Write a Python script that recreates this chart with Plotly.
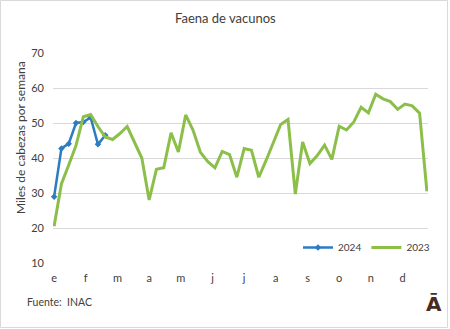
import plotly.graph_objects as go

# Weekly cattle slaughter (thousand head per week)
weeks = list(range(1, 53))
faena_2023 = [20.5, 32.6, 38.0, 43.6, 51.8, 52.4, 49.0, 46.0, 45.3, 47.0,
              49.0, 44.6, 40.0, 28.0, 36.8, 37.2, 47.2, 41.7, 52.3, 48.0,
              41.7, 39.0, 37.2, 41.9, 41.0, 34.5, 42.7, 42.2, 34.5, 39.3,
              44.6, 49.6, 51.0, 29.7, 44.6, 38.4, 40.7, 43.7, 39.6, 49.1,
              48.0, 50.3, 54.5, 52.9, 58.2, 56.9, 56.1, 53.9, 55.4, 54.9,
              52.8, 30.5]
faena_2024 = [28.9, 42.7, 44.1, 50.0, 50.3, 51.6, 43.9, 46.5]
weeks_2024 = weeks[:len(faena_2024)]

month_labels = ["e", "f", "m", "a", "m", "j", "j", "a", "s", "o", "n", "d"]
month_ticks = [1 + i * 52 / 12 for i in range(12)]

W, H = 450, 329
L, R, T, B = 53, 22, 53, 66
PW, PH = W - L - R, H - T - B

def px_x(px):
    return (px - L) / PW

def px_y(py):
    return (H - B - py) / PH

FONT = "Lato"
TXT = "#404040"
GRID = "#D9D9D9"

fig = go.Figure()
fig.add_trace(go.Scatter(
    x=weeks_2024, y=faena_2024, name="2024", mode="lines+markers",
    line=dict(color="#2B7CC3", width=2.5),
    marker=dict(symbol="diamond", size=5, color="#2B7CC3"),
    cliponaxis=False,
))
fig.add_trace(go.Scatter(
    x=weeks, y=faena_2023, name="2023", mode="lines",
    line=dict(color="#8CBF4A", width=3),
    cliponaxis=False,
))

fig.update_layout(
    width=W, height=H,
    margin=dict(l=L, r=R, t=T, b=B),
    paper_bgcolor="white", plot_bgcolor="white",
    font=dict(family=FONT, size=11, color=TXT),
    showlegend=True,
    legend=dict(orientation="h", x=px_x(298), y=px_y(247.5),
                xanchor="left", yanchor="middle",
                bgcolor="rgba(0,0,0,0)", font=dict(size=10, color=TXT)),
    xaxis=dict(range=[0.85, 52.15], tickvals=month_ticks, ticktext=month_labels,
               showgrid=False, zeroline=False, showline=False, ticks="",
               ticklabelstandoff=7),
    yaxis=dict(range=[10, 70], dtick=10, showgrid=True, gridcolor=GRID,
               gridwidth=1, zeroline=False, showline=False, ticks="",
               ticklabelstandoff=8),
)

fig.add_annotation(text="Faena de vacunos", xref="paper", yref="paper",
                   x=px_x(225), y=px_y(18), xanchor="center", yanchor="middle",
                   showarrow=False, font=dict(size=13, color=TXT))
fig.add_annotation(text="Miles de cabezas por semana", xref="paper", yref="paper",
                   x=px_x(20), y=px_y(138), xanchor="center", yanchor="middle",
                   textangle=-90, showarrow=False,
                   font=dict(size=12, color=TXT))
fig.add_annotation(text="Fuente:  INAC", xref="paper", yref="paper",
                   x=px_x(25), y=px_y(302), xanchor="left", yanchor="middle",
                   showarrow=False, font=dict(size=10.5, color=TXT))
fig.add_annotation(text="<b>Ā</b>", xref="paper", yref="paper",
                   x=px_x(433.5), y=px_y(304), xanchor="center", yanchor="middle",
                   showarrow=False,
                   font=dict(family="DejaVu Sans", size=20, color="#4A2C1F"))

# outer frame of the chart
fig.add_shape(type="rect", xref="paper", yref="paper",
              x0=px_x(0.5), x1=px_x(447.5), y0=px_y(327.5), y1=px_y(0.5),
              line=dict(color=GRID, width=1), layer="below")

fig.write_html("out.html")
